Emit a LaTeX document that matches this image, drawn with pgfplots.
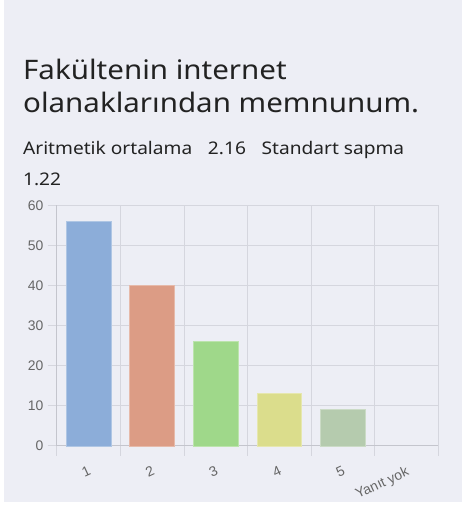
\documentclass[border=0pt]{standalone}
\usepackage{pgfplots}
\pgfplotsset{compat=1.18}
\usepackage{fontspec}
\setmainfont{Noto Sans}
\newfontfamily\titlefont[FakeStretch=1.1]{Noto Sans}
\newfontfamily\arial{Liberation Sans}
\definecolor{bg}{HTML}{EDEEF5}
\definecolor{gridc}{HTML}{D5D6DE}
\definecolor{axc}{HTML}{C4C5CD}
\definecolor{tickc}{HTML}{666666}
\definecolor{txt}{HTML}{222222}
\definecolor{cA}{HTML}{8CADD9}
\definecolor{cB}{HTML}{DC9C85}
\definecolor{cC}{HTML}{9FD88A}
\definecolor{cD}{HTML}{DBDD8C}
\definecolor{cE}{HTML}{B5CBAE}
\begin{document}
\begin{tikzpicture}
\fill[white] (0,0) rectangle (463bp,506bp);
\fill[bg] (4bp,3bp) rectangle (463bp,506bp);
\node[anchor=base west, inner sep=0pt, text=txt, font=\titlefont\fontsize{27}{32}\selectfont] at (23bp,426.7bp) {Fakültenin internet};
\node[anchor=base west, inner sep=0pt, text=txt, font=\titlefont\fontsize{27}{32}\selectfont] at (23bp,393.3bp) {olanaklarından memnunum.};
\node[anchor=base west, inner sep=0pt, text=txt, font=\titlefont\fontsize{17.5}{21}\selectfont] at (23bp,351bp) {Aritmetik ortalama\hspace{0.9em}2.16\hspace{0.9em}Standart sapma};
\node[anchor=base west, inner sep=0pt, text=txt, font=\titlefont\fontsize{17.5}{21}\selectfont] at (23bp,320.3bp) {1.22};
\begin{axis}[
  at={(57bp,59.3bp)}, anchor=south west,
  scale only axis, width=382bp, height=241bp,
  xmin=-0.5, xmax=5.5, ymin=0, ymax=60,
  axis x line*=bottom, axis y line*=left,
  axis line style={draw=axc, line width=0.8pt},
  xtick={0,1,2,3,4,5},
  xticklabels={1,2,3,4,5,Yanıt yok},
  minor xtick={-0.5,0.5,1.5,2.5,3.5,4.5,5.5},
  major x tick style={draw=none},
  minor x tick style={draw=gridc, line width=0.8pt},
  minor tick length=10bp,
  ytick={0,10,20,30,40,50,60},
  major y tick style={draw=gridc, line width=0.8pt},
  major tick length=9bp,
  tick align=outside,
  ymajorgrids, xminorgrids,
  major grid style={draw=gridc, line width=0.8pt},
  minor grid style={draw=gridc, line width=0.8pt},
  /pgf/number format/assume math mode=true,
  yticklabel style={font=\arial\fontsize{14}{16}\selectfont, text=tickc, xshift=-1bp},
  xticklabel style={font=\arial\fontsize{14}{16}\selectfont, text=tickc, rotate=25, anchor=north east, yshift=-6bp, xshift=-2bp},
  ybar, bar width=45bp, bar shift=0pt,
  clip=false,
]
\addplot[fill=cA, draw=cA!70!white, line width=0.6pt] coordinates {(0,56)};
\addplot[fill=cB, draw=cB!70!white, line width=0.6pt] coordinates {(1,40)};
\addplot[fill=cC, draw=cC!70!white, line width=0.6pt] coordinates {(2,26)};
\addplot[fill=cD, draw=cD!70!white, line width=0.6pt] coordinates {(3,13)};
\addplot[fill=cE, draw=cE!70!white, line width=0.6pt] coordinates {(4,9)};
\addplot[draw=none, fill=none] coordinates {(5,0)};
\end{axis}
\end{tikzpicture}
\end{document}
